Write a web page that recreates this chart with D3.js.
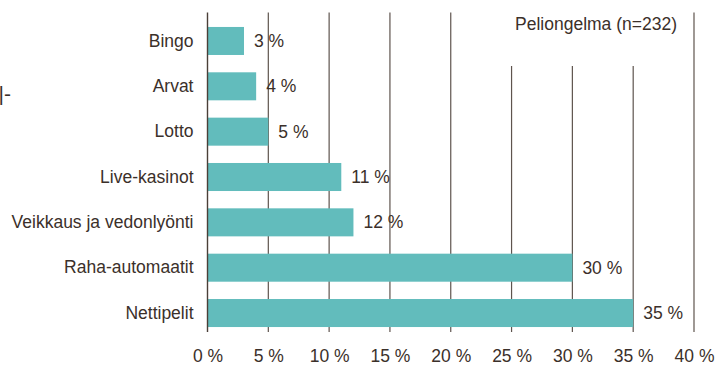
<!DOCTYPE html>
<html>
<head>
<meta charset="utf-8">
<script src="https://cdn.jsdelivr.net/npm/d3@7"></script>
<style>
  html, body { margin: 0; padding: 0; background: #ffffff; }
  svg { display: block; font-family: "Liberation Sans", Arial, Helvetica, sans-serif; }
</style>
</head>
<body>
<svg id="chart" width="727" height="365"></svg>
<script>
// Pelimuodot, joita peliongelmaiset pelaavat (%)
const categories = ["Bingo", "Arvat", "Lotto", "Live-kasinot", "Veikkaus ja vedonlyönti", "Raha-automaatit", "Nettipelit"];
const values = [3, 4, 5, 11, 12, 30, 35];
const ticks = [0, 5, 10, 15, 20, 25, 30, 35, 40];
const legendText = "Peliongelma (n=232)";

const svg = d3.select("#chart");
const textColor = "#3b302a";
const lineColor = "#5e544e";
const barColor = "#62bcbc";
const fontSize = 17.5;

const x = d3.scaleLinear().domain([0, 40]).range([207.5, 694]);
const y = d3.scaleBand().domain(categories).range([18.3, 335.7])
  .paddingInner(0.382).paddingOuter(0.191);

const gridTop = 12.5, gridBottom = 332, legendBottom = 66;

// vertical gridlines (the ones behind the legend start lower)
svg.append("g").selectAll("line")
  .data(ticks.filter(t => t > 0))
  .join("line")
  .attr("x1", d => x(d)).attr("x2", d => x(d))
  .attr("y1", d => (d >= 25 && d <= 35) ? legendBottom : gridTop)
  .attr("y2", gridBottom)
  .attr("stroke", lineColor).attr("stroke-width", 1.2);

// bars
svg.append("g").selectAll("rect")
  .data(categories)
  .join("rect")
  .attr("x", x(0))
  .attr("y", d => y(d))
  .attr("width", (d, i) => x(values[i]) - x(0))
  .attr("height", y.bandwidth())
  .attr("fill", barColor);

// value axis labels
const xAxis = d3.axisBottom(x).tickValues(ticks).tickSize(0).tickPadding(0)
  .tickFormat(d => d + " %");
const gx = svg.append("g").attr("transform", "translate(0,349.5)").call(xAxis);
gx.select(".domain").remove();
gx.selectAll("text")
  .attr("fill", textColor)
  .attr("font-size", fontSize)
  .attr("font-family", "Liberation Sans, Arial, sans-serif");

// category labels
const yAxis = d3.axisLeft(y).tickSize(0).tickPadding(14);
const gy = svg.append("g").attr("transform", `translate(${x(0)},0)`).call(yAxis);
gy.select(".domain").remove();
gy.selectAll("text")
  .attr("fill", textColor)
  .attr("font-size", fontSize)
  .attr("font-family", "Liberation Sans, Arial, sans-serif");

// zero baseline
svg.append("line")
  .attr("x1", x(0)).attr("x2", x(0))
  .attr("y1", gridTop).attr("y2", gridBottom)
  .attr("stroke", "#4a3f38").attr("stroke-width", 1.4);

// value labels
svg.append("g").selectAll("text")
  .data(categories)
  .join("text")
  .attr("x", (d, i) => x(values[i]) + 10)
  .attr("y", d => y(d) + y.bandwidth() / 2)
  .attr("dy", "0.35em")
  .attr("fill", textColor)
  .attr("font-size", fontSize)
  .text((d, i) => values[i] + " %");

// legend text
svg.append("text")
  .attr("x", 677).attr("y", 30)
  .attr("text-anchor", "end")
  .attr("fill", textColor)
  .attr("font-size", fontSize)
  .text(legendText);

// fragment at the left edge
svg.append("text")
  .attr("x", -1.5).attr("y", 101)
  .attr("fill", textColor)
  .attr("font-size", 21)
  .text("|-");
</script>
</body>
</html>
